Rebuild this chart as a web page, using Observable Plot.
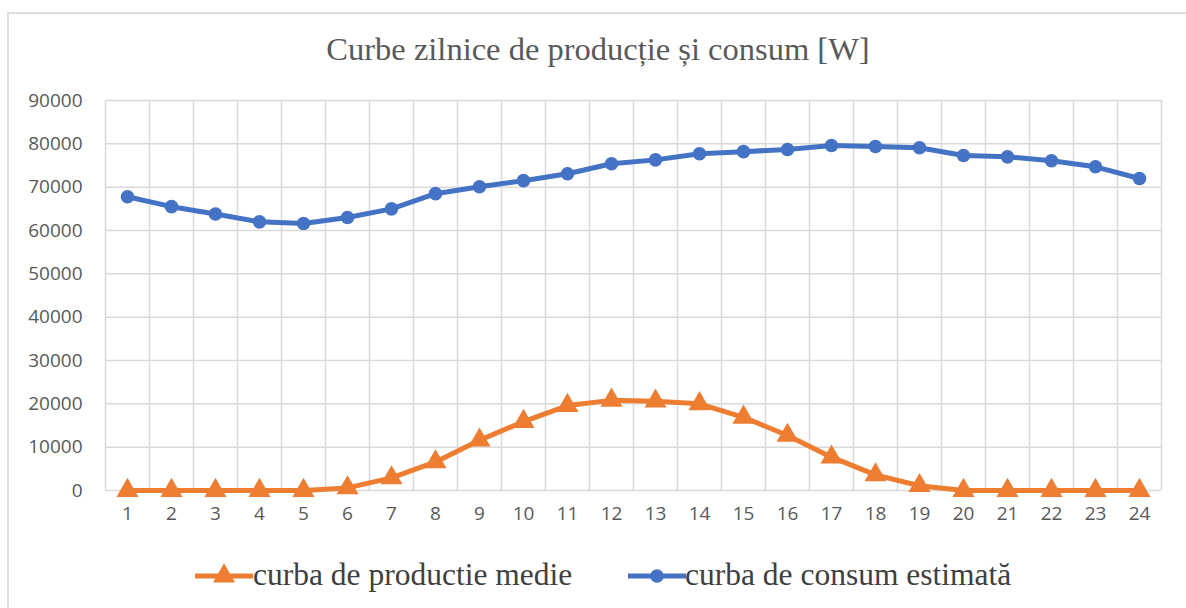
<!DOCTYPE html>
<html>
<head>
<meta charset="utf-8">
<script src="https://cdn.jsdelivr.net/npm/d3@7"></script>
<script src="https://cdn.jsdelivr.net/npm/@observablehq/plot@0.6"></script>
<style>
  html, body { margin: 0; padding: 0; background: #fff; width: 1186px; height: 608px; overflow: hidden; }
  #frame { position: absolute; left: 7px; top: 12px; width: 1200px; height: 620px; border-left: 2px solid #dedede; border-top: 2px solid #dedede; box-sizing: border-box; }
  #title { position: absolute; left: 0; width: 1196px; top: 31px; text-align: center; font-family: "Liberation Serif", "DejaVu Serif", serif; font-size: 32.5px; color: #595959; }
  #chart { position: absolute; left: 0; top: 80px; }
  .leg { position: absolute; top: 559px; font-family: "Liberation Serif", "DejaVu Serif", serif; font-size: 31.5px; color: #404040; white-space: nowrap; line-height: 32px; }
  .leg svg { position: absolute; top: 1px; }
  .leg span { font-family: "Liberation Serif", "DejaVu Serif", serif; }
</style>
</head>
<body>
<div id="frame"></div>
<div id="title">Curbe zilnice de producție și consum [W]</div>
<div id="chart"></div>
<div id="legend"></div>
<script>
const hours = [1,2,3,4,5,6,7,8,9,10,11,12,13,14,15,16,17,18,19,20,21,22,23,24];
const productie = [0,0,0,0,0,600,2900,6600,11600,15900,19600,20800,20600,20000,16900,12700,7700,3600,1100,0,0,0,0,0];
const consum = [67800,65500,63800,62000,61600,63000,65000,68500,70100,71500,73100,75400,76300,77700,78200,78700,79600,79400,79100,77300,77000,76100,74700,72000];
const yTicks = [0,10000,20000,30000,40000,50000,60000,70000,80000,90000];
const seriesNames = ["curba de productie medie", "curba de consum estimată"];
const colors = ["#ED7D31", "#4472C4"];

const prodData = hours.map((h, i) => ({h, v: productie[i]}));
const consData = hours.map((h, i) => ({h, v: consum[i]}));
const bandEdges = [0.5, ...hours.map(h => h + 0.5)];

const chart = Plot.plot({
  width: 1186,
  height: 470,
  marginLeft: 105,
  marginRight: 25,
  marginTop: 20,
  marginBottom: 60,
  style: {fontFamily: "'Open Sans', sans-serif", fontSize: "19px", color: "#595959", background: "transparent"},
  x: {domain: [0.5, 24.5], ticks: hours, tickSize: 0, tickPadding: 16, tickFormat: d => String(d), label: null},
  y: {domain: [0, 90000], ticks: yTicks, tickSize: 0, tickPadding: 23, tickFormat: d => String(d), label: null},
  marks: [
    Plot.ruleY(yTicks, {stroke: "#d9d9d9", strokeWidth: 1.5}),
    Plot.ruleX(bandEdges, {stroke: "#d9d9d9", strokeWidth: 1.5}),
    Plot.line(prodData, {x: "h", y: "v", stroke: colors[0], strokeWidth: 5}),
    Plot.dot(prodData, {x: "h", y: "v", symbol: "triangle", r: 8.2, fill: colors[0], stroke: "none"}),
    Plot.line(consData, {x: "h", y: "v", stroke: colors[1], strokeWidth: 5}),
    Plot.dot(consData, {x: "h", y: "v", symbol: "circle", r: 6.8, fill: colors[1], stroke: "none"})
  ]
});
document.getElementById("chart").appendChild(chart);

// legend
const legend = document.getElementById("legend");
const legPos = [{marker: 195, text: 253, sym: "triangle"}, {marker: 628, text: 685, sym: "circle"}];
seriesNames.forEach((name, i) => {
  const p = legPos[i];
  const svg = d3.create("svg").attr("width", 60).attr("height", 32)
    .style("left", (p.marker) + "px");
  svg.append("line").attr("x1", 0).attr("x2", 58).attr("y1", 16).attr("y2", 16)
    .attr("stroke", colors[i]).attr("stroke-width", 5);
  const sym = p.sym === "triangle" ? d3.symbolTriangle : d3.symbolCircle;
  const size = p.sym === "triangle" ? Math.PI * 8.2 * 8.2 : Math.PI * 6.8 * 6.8;
  svg.append("path").attr("d", d3.symbol(sym, size)()).attr("transform", "translate(29,16)").attr("fill", colors[i]);
  const wrap = document.createElement("div");
  wrap.className = "leg";
  wrap.style.left = "0px";
  wrap.appendChild(svg.node());
  const span = document.createElement("span");
  span.textContent = name;
  span.style.position = "absolute";
  span.style.left = p.text + "px";
  wrap.appendChild(span);
  legend.appendChild(wrap);
});
</script>
</body>
</html>
